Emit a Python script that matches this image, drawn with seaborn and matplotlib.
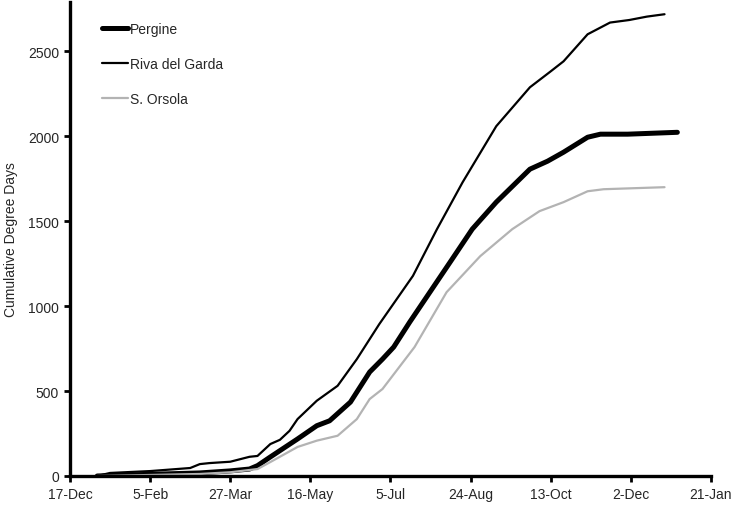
import pandas as pd
import numpy as np
import matplotlib
matplotlib.use("Agg")
import matplotlib.pyplot as plt
import matplotlib.dates as mdates
import seaborn as sns

# day of year (0 = 1-Jan) and cumulative degree days
riva_doy = [2, 10, 35, 60, 66, 72, 85, 97, 102, 110, 116, 122, 127, 139, 152, 164,
            178, 199, 214, 230, 251, 272, 285, 293, 308, 322, 334, 345, 356]
riva_val = [0, 18, 29, 47, 70, 76, 84, 113, 118, 188, 213, 266, 335, 443, 531, 688,
            894, 1178, 1453, 1729, 2059, 2288, 2382, 2441, 2600, 2669, 2684, 2704, 2718]

pergine_doy = [2, 35, 66, 85, 97, 102, 110, 127, 139, 147, 160, 172, 180, 187, 197,
               210, 223, 236, 251, 272, 283, 293, 308, 316, 333, 364]
pergine_val = [0, 10, 18, 30, 41, 61, 112, 218, 296, 325, 435, 612, 688, 759, 906,
               1088, 1270, 1453, 1612, 1806, 1853, 1906, 1994, 2012, 2012, 2023]

orsola_doy = [2, 35, 66, 85, 102, 110, 127, 139, 152, 164, 172, 180, 200, 220, 241,
              261, 278, 293, 308, 318, 356]
orsola_val = [0, 6, 12, 22, 41, 82, 171, 208, 237, 335, 453, 512, 759, 1082, 1294,
              1453, 1559, 1612, 1676, 1688, 1700]

series = [
    ("Pergine", pergine_doy, pergine_val, "black", 3.6),
    ("Riva del Garda", riva_doy, riva_val, "black", 1.6),
    ("S. Orsola", orsola_doy, orsola_val, "#b3b3b3", 1.6),
]

sns.set_style("ticks")
plt.rcParams['font.family'] = ['Liberation Sans', 'DejaVu Sans']

fig = plt.figure(figsize=(7.35, 5.06), dpi=100)
ax = fig.add_axes([70 / 735, 29 / 506, 641 / 735, 474 / 506])

year0 = pd.Timestamp("2010-01-01")
for name, doy, val, col, lw in series:
    df = pd.DataFrame({"date": year0 + pd.to_timedelta(doy, unit="D"), "cdd": val})
    sns.lineplot(data=df, x="date", y="cdd", ax=ax, color=col, linewidth=lw, label=name)

start = pd.Timestamp("2009-12-17")
ticks = [start + pd.Timedelta(days=50 * k) for k in range(9)]
ax.set_xticks(ticks)
ax.xaxis.set_major_formatter(mdates.DateFormatter("%-d-%b"))
ax.set_xlim(ticks[0], ticks[-1])
ax.set_ylim(0, 2790)
ax.set_yticks(np.arange(0, 2501, 500))

ax.set_xlabel("")
ax.set_ylabel("Cumulative Degree Days", fontsize=10, labelpad=7)
ax.tick_params(axis="both", labelsize=10, length=4, width=2, color="black", pad=4)
sns.despine(ax=ax)
for s in ["left", "bottom"]:
    ax.spines[s].set_linewidth(2.4)
    ax.spines[s].set_color("black")

leg = ax.legend(loc="upper left", bbox_to_anchor=(102 / 735, 1 - 23 / 506),
                bbox_transform=fig.transFigure, frameon=False, fontsize=10,
                handlelength=1.9, handletextpad=0.1, labelspacing=1.5,
                borderaxespad=0, borderpad=0)

fig.savefig("out.png", dpi=100)
